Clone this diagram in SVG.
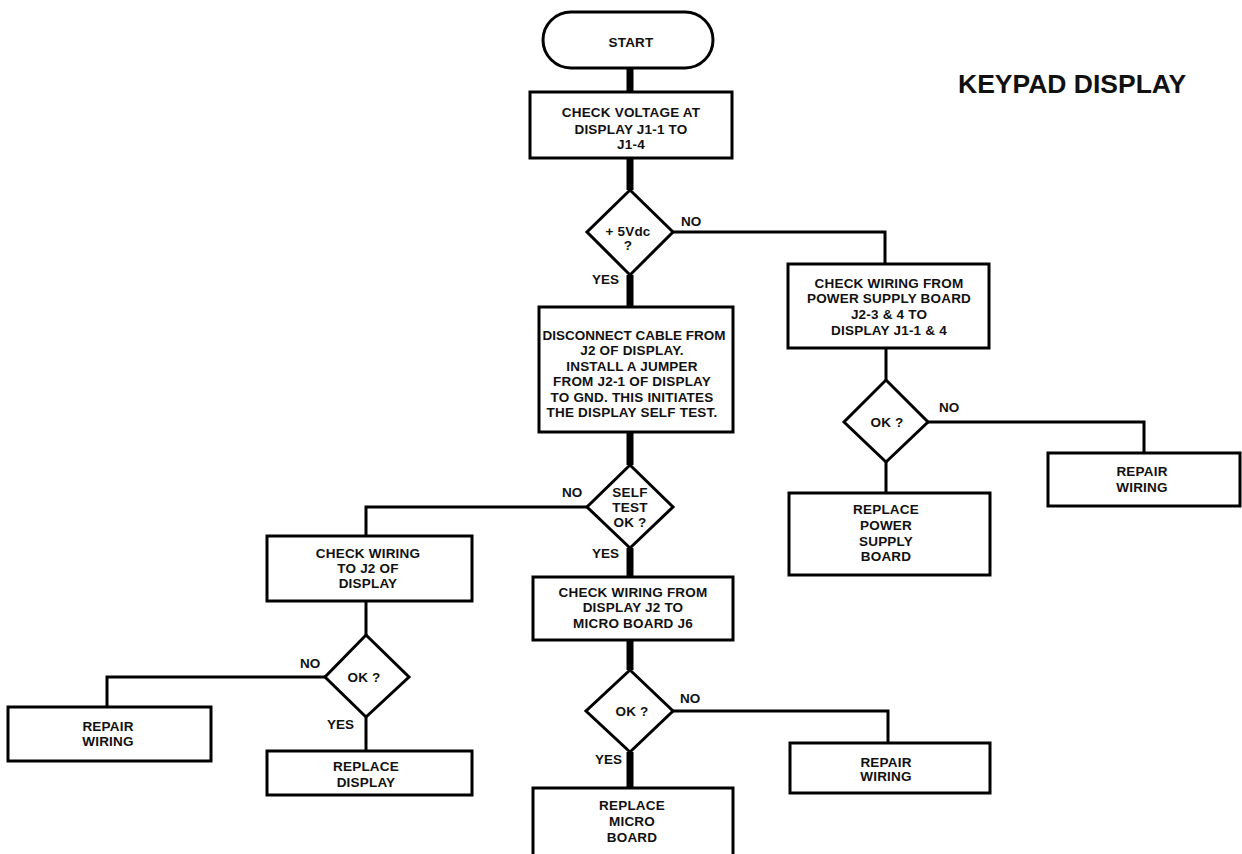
<svg xmlns="http://www.w3.org/2000/svg" width="1242" height="854" viewBox="0 0 1242 854">
<style>
.box{fill:#fff;stroke:#000;stroke-width:3}
.t{font-family:"Liberation Sans",Arial,sans-serif;font-weight:bold;font-size:13.5px;letter-spacing:0.2px;fill:#111;text-anchor:middle}
.l{font-family:"Liberation Sans",Arial,sans-serif;font-weight:bold;font-size:13.5px;fill:#111}
.thick{stroke:#000;stroke-width:7;fill:none}
.thin{stroke:#000;stroke-width:3;fill:none}
</style>
<rect width="1242" height="854" fill="#fff"/>
<text x="958" y="93" style="font-family:'Liberation Sans',Arial,sans-serif;font-weight:bold;font-size:26.5px;fill:#111">KEYPAD DISPLAY</text>
<g id="connectors">
<line class="thick" x1="630" y1="68" x2="630" y2="92"/>
<line class="thick" x1="630" y1="158" x2="630" y2="190"/>
<line class="thick" x1="630" y1="275" x2="630" y2="307"/>
<line class="thick" x1="630" y1="432" x2="630" y2="465"/>
<line class="thick" x1="630" y1="548" x2="630" y2="577"/>
<line class="thick" x1="630" y1="640" x2="630" y2="670"/>
<line class="thick" x1="630" y1="752" x2="630" y2="788"/>
<polyline class="thin" points="673,232 885,232 885,264"/>
<line class="thin" x1="886" y1="348" x2="886" y2="380"/>
<line class="thin" x1="886" y1="462" x2="886" y2="493"/>
<polyline class="thin" points="928,422 1144,422 1144,453"/>
<polyline class="thin" points="587,507 366,507 366,536"/>
<line class="thin" x1="366" y1="601" x2="366" y2="635"/>
<line class="thin" x1="366" y1="717" x2="366" y2="751"/>
<polyline class="thin" points="325,677 107,677 107,707"/>
<polyline class="thin" points="673,711 888,711 888,743"/>
<text class="l" x="681" y="226">NO</text>
<text class="l" x="592" y="284">YES</text>
<text class="l" x="939" y="412">NO</text>
<text class="l" x="562" y="497">NO</text>
<text class="l" x="592" y="558">YES</text>
<text class="l" x="300" y="668">NO</text>
<text class="l" x="327" y="729">YES</text>
<text class="l" x="680" y="703">NO</text>
<text class="l" x="595" y="764">YES</text>
</g>
<g id="start">
<rect class="box" x="543" y="12" width="170" height="56" rx="28" ry="28"/>
<text class="t" x="631" y="47">START</text>
</g>
<g id="check-voltage">
<rect class="box" x="530" y="92" width="202" height="66"/>
<text class="t" x="631" y="117">CHECK VOLTAGE AT</text>
<text class="t" x="631" y="134">DISPLAY J1-1 TO</text>
<text class="t" x="631" y="149">J1-4</text>
</g>
<g id="d-5vdc">
<polygon class="box" points="630,190 673,232 630,275 587,232"/>
<text class="t" x="628" y="236">+ 5Vdc</text>
<text class="t" x="628" y="250">?</text>
</g>
<g id="check-psu-wiring">
<rect class="box" x="788" y="264" width="201" height="84"/>
<text class="t" x="889" y="288">CHECK WIRING FROM</text>
<text class="t" x="889" y="303">POWER SUPPLY BOARD</text>
<text class="t" x="889" y="319">J2-3 &amp; 4 TO</text>
<text class="t" x="889" y="335">DISPLAY J1-1 &amp; 4</text>
</g>
<g id="d-ok-psu">
<polygon class="box" points="886,380 928,422 886,462 844,422"/>
<text class="t" x="887" y="427">OK ?</text>
</g>
<g id="repair-wiring-right">
<rect class="box" x="1048" y="453" width="192" height="53"/>
<text class="t" x="1142" y="476">REPAIR</text>
<text class="t" x="1142" y="492">WIRING</text>
</g>
<g id="replace-psu">
<rect class="box" x="789" y="493" width="201" height="82"/>
<text class="t" x="886" y="514">REPLACE</text>
<text class="t" x="886" y="530">POWER</text>
<text class="t" x="886" y="546">SUPPLY</text>
<text class="t" x="886" y="561">BOARD</text>
</g>
<g id="disconnect-cable">
<rect class="box" x="539" y="307" width="194" height="125"/>
<text class="t" x="634" y="340" style="letter-spacing:0">DISCONNECT CABLE FROM</text>
<text class="t" x="632" y="355">J2 OF DISPLAY.</text>
<text class="t" x="632" y="371">INSTALL A JUMPER</text>
<text class="t" x="632" y="386">FROM J2-1 OF DISPLAY</text>
<text class="t" x="632" y="402">TO GND. THIS INITIATES</text>
<text class="t" x="632" y="417">THE DISPLAY SELF TEST.</text>
</g>
<g id="d-self-test">
<polygon class="box" points="630,465 673,507 630,548 587,507"/>
<text class="t" x="630" y="497">SELF</text>
<text class="t" x="630" y="512">TEST</text>
<text class="t" x="630" y="527">OK ?</text>
</g>
<g id="check-j2-wiring">
<rect class="box" x="267" y="536" width="205" height="65"/>
<text class="t" x="368" y="558">CHECK WIRING</text>
<text class="t" x="368" y="573">TO J2 OF</text>
<text class="t" x="368" y="588">DISPLAY</text>
</g>
<g id="d-ok-left">
<polygon class="box" points="366,635 409,677 366,717 325,677"/>
<text class="t" x="364" y="682">OK ?</text>
</g>
<g id="repair-wiring-left">
<rect class="box" x="8" y="707" width="203" height="54"/>
<text class="t" x="108" y="731">REPAIR</text>
<text class="t" x="108" y="746">WIRING</text>
</g>
<g id="replace-display">
<rect class="box" x="267" y="751" width="205" height="44"/>
<text class="t" x="366" y="771">REPLACE</text>
<text class="t" x="366" y="787">DISPLAY</text>
</g>
<g id="check-micro-wiring">
<rect class="box" x="533" y="577" width="200" height="63"/>
<text class="t" x="633" y="597">CHECK WIRING FROM</text>
<text class="t" x="633" y="612">DISPLAY J2 TO</text>
<text class="t" x="633" y="628">MICRO BOARD J6</text>
</g>
<g id="d-ok-mid">
<polygon class="box" points="630,670 673,711 630,752 586,711"/>
<text class="t" x="632" y="716">OK ?</text>
</g>
<g id="repair-wiring-mid">
<rect class="box" x="790" y="743" width="200" height="50"/>
<text class="t" x="886" y="767">REPAIR</text>
<text class="t" x="886" y="781">WIRING</text>
</g>
<g id="replace-micro">
<rect class="box" x="533" y="788" width="200" height="72"/>
<text class="t" x="632" y="810">REPLACE</text>
<text class="t" x="632" y="826">MICRO</text>
<text class="t" x="632" y="842">BOARD</text>
</g>
</svg>
